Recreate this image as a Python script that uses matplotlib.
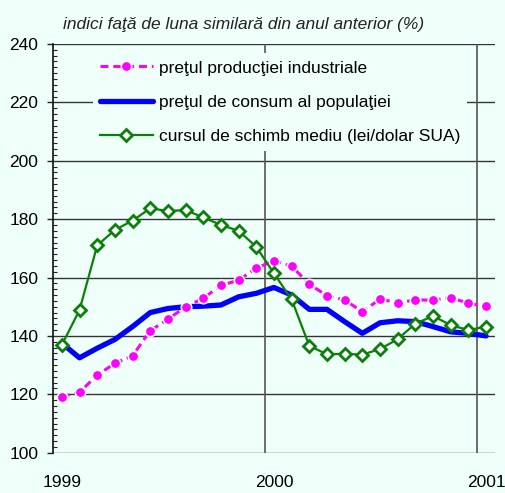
import matplotlib
matplotlib.use("Agg")
import matplotlib.pyplot as plt
from matplotlib.ticker import MultipleLocator

# lunile ian 1999 .. ian 2001
months = list(range(25))
year_ticks = [0, 12, 24]
year_labels = ["1999", "2000", "2001"]
year_lines = [11.5, 23.5]

pret_productie = [119.2, 120.7, 126.6, 130.6, 133.2, 141.8, 145.7, 150.0,
                  152.9, 157.3, 159.1, 163.2, 165.8, 163.9, 157.7, 153.8,
                  152.3, 148.3, 152.6, 151.4, 152.3, 152.3, 153.1, 151.2,
                  150.2]
pret_consum = [137.5, 132.5, 135.8, 138.8, 143.2, 148.0, 149.4, 150.0,
               150.2, 150.6, 153.4, 154.6, 156.6, 154.0, 149.1, 149.1,
               144.9, 140.9, 144.5, 145.2, 144.9, 143.2, 141.4, 140.9,
               140.0]
curs_schimb = [136.9, 148.9, 171.0, 176.3, 179.5, 183.7, 182.8, 183.1,
               180.6, 178.0, 176.0, 170.5, 161.4, 152.5, 136.6, 133.7,
               133.9, 133.6, 135.5, 138.9, 144.2, 146.8, 143.7, 142.0,
               143.2]

labels = ["preţul producţiei industriale",
          "preţul de consum al populaţiei",
          "cursul de schimb mediu (lei/dolar SUA)"]

bg = "#effffa"
plt.rcParams["font.family"] = ["Liberation Sans", "DejaVu Sans"]

fig = plt.figure(figsize=(5.05, 4.93), dpi=100, facecolor=bg)
ax = fig.add_axes([0.105, 0.0817, 0.875, 0.8291])
ax.set_facecolor(bg)

line_b, = ax.plot(months, pret_consum, color="#0000ff", lw=3.8,
                  solid_joinstyle="round", solid_capstyle="round",
                  label=labels[1], zorder=3)
line_m, = ax.plot(months, pret_productie, color="#ff00ff", lw=2.2,
                  dashes=(2.6, 1.6), marker="o", markersize=7.5,
                  markerfacecolor="#ff00ff", markeredgecolor="white",
                  markeredgewidth=1.2, label=labels[0], zorder=4)
line_g, = ax.plot(months, curs_schimb, color="#0a800a", lw=1.6,
                  marker="D", markersize=6.5, markerfacecolor="white",
                  markeredgecolor="#0a800a", markeredgewidth=2,
                  label=labels[2], zorder=5)

ax.set_xlim(-0.5, 24.5)
ax.set_ylim(100, 240)

ax.yaxis.set_major_locator(MultipleLocator(20))
ax.yaxis.set_minor_locator(MultipleLocator(2))
ax.tick_params(axis="y", which="major", direction="out", length=4.5,
               width=1, color="#222222", labelsize=12.5, pad=6)
ax.tick_params(axis="y", which="minor", direction="in", length=3,
               width=0.8, color="#222222")
ax.set_xticks(year_ticks)
ax.set_xticklabels(year_labels)
ax.tick_params(axis="x", length=0, labelsize=12.5, pad=16)

ax.grid(axis="y", which="major", color="#333333", lw=1)
for xv in year_lines:
    ax.axvline(xv, color="#555555", lw=1.2, zorder=1)
ax.set_axisbelow(True)

for side in ["top", "bottom", "right"]:
    ax.spines[side].set_visible(False)
ax.spines["left"].set_color("#111111")
ax.spines["left"].set_linewidth(1.2)

leg = ax.legend(handles=[line_m, line_b, line_g], loc="upper left",
                bbox_to_anchor=(0.07, 0.998), fontsize=12.5,
                handlelength=3.1, handletextpad=0.3, labelspacing=1.1,
                facecolor=bg, edgecolor="none", framealpha=1,
                borderpad=0.4, fancybox=False)
leg.set_zorder(6)

fig.text(63 / 505, 1 - 24 / 493,
         "indici faţă de luna similară din anul anterior (%)",
         fontsize=12.5, style="italic", va="center", ha="left",
         color="#222222")

fig.savefig("out.png", dpi=100, facecolor=bg)
